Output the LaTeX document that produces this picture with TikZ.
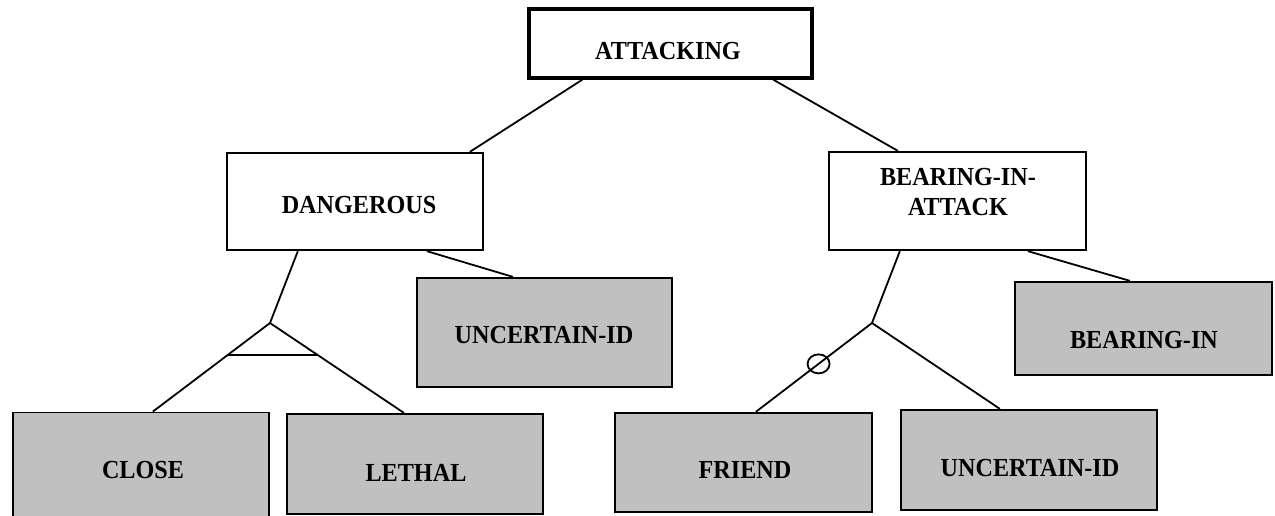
\documentclass[tikz,border=0pt]{standalone}
\usepackage{fontspec}
\setmainfont{Liberation Serif}
\newfontfamily\lblfont[FakeStretch=0.93]{Liberation Serif}
\usetikzlibrary{calc}
\definecolor{boxgray}{HTML}{C0C0C0}
\begin{document}
\begin{tikzpicture}[x=1pt,y=-1pt,
  box/.style={draw, line width=1.8pt, rectangle, inner sep=0pt},
  leaf/.style={box, fill=boxgray},
  lbl/.style={font=\lblfont\bfseries\fontsize{26}{30}\selectfont, inner sep=0pt, align=center},
  conn/.style={line width=1.8pt}]
\useasboundingbox (0,0) rectangle (1275,516);
\clip (0,0) rectangle (1275,516);
\fill[white] (0,0) rectangle (1275,516);

% boxes
\node[box, line width=3.4pt, minimum width=283pt, minimum height=69pt] (att) at (670.5,43.5) {};
\node[box, minimum width=256.5pt, minimum height=97.5pt] (dang) at (355,201.5) {};
\node[box, minimum width=257.5pt, minimum height=98.5pt] (bia) at (957.5,201) {};
\node[leaf, minimum width=255.5pt, minimum height=109.5pt] (unca) at (544.5,332.5) {};
\node[leaf, minimum width=257.5pt, minimum height=93.5pt] (bin) at (1143.5,328.5) {};
\node[leaf, minimum width=256.5pt, minimum height=117pt] (close) at (141,471) {};
\node[leaf, minimum width=256.5pt, minimum height=100.5pt] (lethal) at (415,464) {};
\node[leaf, minimum width=257.5pt, minimum height=99.5pt] (friend) at (743.5,462.5) {};
\node[leaf, minimum width=256.5pt, minimum height=100.5pt] (uncb) at (1029,460) {};

% labels
\node[lbl] (attT) at (668,51) {ATTACKING};
\node[lbl] (dangT) at (359,205) {DANGEROUS};
\node[lbl] (biaT) at (958,192) {BEARING-IN-\\ATTACK};
\node[lbl] (uncaT) at (544,335) {UNCERTAIN-ID};
\node[lbl] (binT) at (1144,340) {BEARING-IN};
\node[lbl] (closeT) at (143,470) {CLOSE};
\node[lbl] (lethalT) at (416,473) {LETHAL};
\node[lbl] (friendT) at (745,470) {FRIEND};
\node[lbl] (uncbT) at (1030,468) {UNCERTAIN-ID};

% junctions and attachment points
\coordinate (j1) at (270,323);
\coordinate (j2) at (872,323);
\coordinate (closeTop) at ([xshift=141pt]close.north west);
\coordinate (lethalTop) at ([xshift=118pt]lethal.north west);
\coordinate (friendTop) at ([xshift=142pt]friend.north west);

% connectors
\draw[conn] ([xshift=55pt]att.south west) -- ([xshift=244pt]dang.north west);
\draw[conn] ([xshift=246pt]att.south west) -- ([xshift=70pt]bia.north west);
\draw[conn] ([xshift=72pt]dang.south west) -- (j1);
\draw[conn] (j1) -- (closeTop);
\draw[conn] (j1) -- (lethalTop);
\draw[conn] ($(j1)!0.36!(closeTop)$) -- ($(j1)!0.356!(lethalTop)$);
\draw[conn] ([xshift=201pt]dang.south west) -- ([xshift=97pt]unca.north west);
\draw[conn] ([xshift=72pt]bia.south west) -- (j2);
\draw[conn] (j2) -- (friendTop);
\draw[conn] (j2) -- ([xshift=100pt]uncb.north west);
\draw[conn] ([xshift=200pt]bia.south west) -- ([xshift=116pt]bin.north west);
\draw[conn] ($(j2)!0.46!(friendTop)$) circle[x radius=11pt, y radius=9.5pt];
\end{tikzpicture}
\end{document}
